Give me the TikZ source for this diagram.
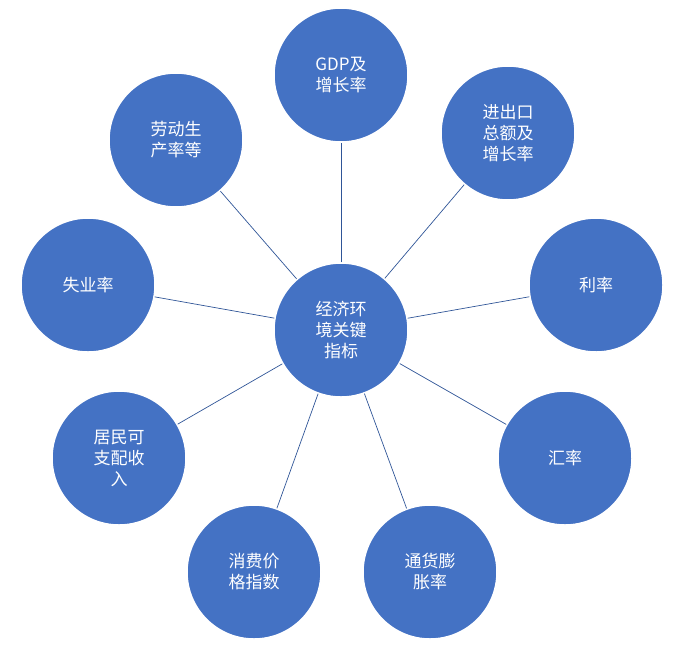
\documentclass[tikz,border=0pt]{standalone}
\usepackage{fontspec}
\setmainfont{Noto Sans CJK SC}
\begin{document}
\begin{tikzpicture}[x=1pt,y=-1pt,
  ball/.style={circle,fill={rgb,255:red,68;green,114;blue,196},draw=white,line width=1.5pt,minimum size=134pt,inner sep=0pt,text=white,font=\fontsize{17}{21}\selectfont,align=center},
  link/.style={draw={rgb,255:red,47;green,85;blue,151},line width=0.7pt}]
\useasboundingbox (0,0) rectangle (675,654);
\node[ball] (c) at (341,330) {经济环\\境关键\\指标};
\node[ball] (a1) at (341,75) {GDP及\\增长率};
\node[ball] (a2) at (508,133) {进出口\\总额及\\增长率};
\node[ball] (a3) at (596,285) {利率};
\node[ball] (a4) at (565,458) {汇率};
\node[ball] (a5) at (430,572) {通货膨\\胀率};
\node[ball] (a6) at (254,572) {消费价\\格指数};
\node[ball] (a7) at (119,458) {居民可\\支配收\\入};
\node[ball] (a8) at (88,285) {失业率};
\node[ball] (a9) at (176,140) {劳动生\\产率等};
\foreach \n in {a1,a2,a3,a4,a5,a6,a7,a8,a9} \draw[link] (c) -- (\n);
\end{tikzpicture}
\end{document}
